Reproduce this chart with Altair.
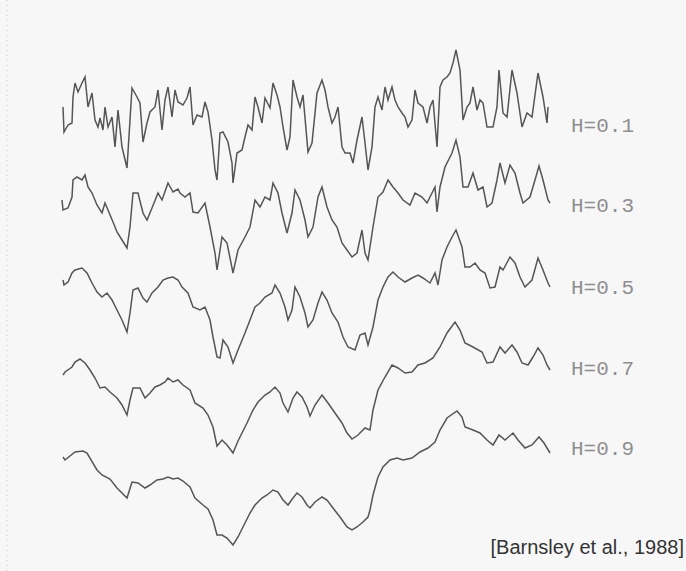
import altair as alt
import pandas as pd

x01 = [63, 64, 68, 72, 73, 75, 78, 82, 85, 88, 92, 95, 98, 100, 103, 105, 108, 112, 115, 118, 122, 127, 130, 132, 137, 140, 143, 147, 150, 155, 158, 162, 165, 168, 172, 175, 178, 183, 187, 190, 193, 197, 202, 205, 208, 212, 215, 217, 220, 223, 228, 232, 233, 237, 242, 245, 248, 252, 255, 258, 262, 265, 270, 273, 277, 280, 283, 287, 290, 293, 297, 300, 303, 308, 312, 317, 322, 325, 328, 332, 335, 338, 342, 345, 350, 353, 357, 362, 365, 368, 372, 375, 378, 382, 385, 388, 392, 395, 398, 402, 405, 408, 412, 415, 418, 423, 427, 430, 433, 437, 440, 443, 447, 450, 453, 456, 460, 463, 467, 470, 473, 477, 480, 483, 487, 493, 497, 499, 503, 507, 512, 517, 522, 527, 532, 538, 543, 547, 548]
y01 = [107, 132, 125, 123, 97, 83, 92, 83, 77, 107, 93, 120, 127, 118, 130, 107, 127, 117, 147, 110, 147, 168, 120, 88, 97, 103, 142, 123, 112, 107, 90, 130, 100, 87, 117, 90, 102, 105, 98, 87, 125, 115, 117, 102, 112, 140, 170, 180, 133, 132, 142, 163, 183, 153, 150, 137, 125, 130, 97, 107, 123, 98, 108, 83, 95, 107, 127, 150, 137, 80, 97, 107, 95, 152, 143, 93, 80, 90, 107, 123, 117, 107, 147, 153, 153, 163, 140, 117, 143, 170, 147, 107, 97, 110, 87, 100, 87, 100, 107, 113, 117, 127, 120, 90, 103, 107, 123, 107, 100, 147, 87, 80, 77, 73, 63, 50, 70, 120, 107, 103, 87, 110, 100, 103, 127, 127, 107, 70, 113, 117, 70, 93, 127, 113, 117, 73, 97, 123, 107]

x03 = [62, 63, 68, 72, 73, 77, 82, 85, 88, 92, 97, 102, 105, 108, 113, 117, 122, 127, 130, 133, 138, 143, 147, 152, 158, 162, 168, 173, 178, 180, 185, 190, 193, 198, 205, 210, 215, 217, 222, 227, 233, 238, 245, 250, 255, 260, 265, 270, 273, 278, 282, 287, 292, 295, 300, 305, 308, 313, 318, 322, 327, 332, 337, 342, 347, 352, 357, 362, 365, 368, 373, 378, 383, 388, 393, 398, 403, 410, 415, 422, 427, 432, 435, 437, 440, 445, 452, 456, 460, 463, 468, 473, 478, 483, 487, 492, 497, 500, 505, 510, 515, 520, 523, 530, 535, 539, 543, 548, 550]
y03 = [200, 210, 208, 197, 180, 177, 180, 175, 187, 193, 205, 213, 203, 210, 222, 232, 240, 248, 227, 193, 193, 213, 220, 208, 193, 200, 183, 192, 189, 193, 197, 193, 212, 213, 203, 227, 253, 270, 237, 243, 273, 250, 237, 227, 200, 207, 197, 200, 183, 193, 213, 233, 213, 190, 200, 220, 237, 227, 197, 187, 207, 220, 227, 243, 250, 257, 253, 230, 253, 260, 227, 197, 192, 180, 187, 193, 200, 205, 193, 197, 203, 193, 187, 212, 187, 167, 153, 140, 157, 187, 187, 173, 190, 187, 207, 203, 180, 163, 183, 165, 173, 193, 203, 197, 180, 166, 180, 200, 203]

x05 = [63, 64, 68, 72, 75, 82, 87, 92, 97, 102, 107, 112, 117, 122, 127, 130, 133, 138, 143, 147, 152, 158, 163, 168, 173, 178, 182, 188, 193, 200, 205, 210, 213, 217, 220, 223, 228, 233, 238, 245, 250, 255, 260, 265, 272, 275, 280, 285, 288, 292, 295, 300, 305, 308, 313, 318, 322, 327, 332, 338, 343, 348, 355, 360, 365, 368, 373, 378, 383, 388, 393, 398, 405, 412, 418, 423, 430, 435, 438, 442, 447, 452, 456, 462, 465, 470, 475, 480, 485, 490, 495, 500, 503, 510, 515, 520, 525, 532, 538, 543, 548, 550]
y05 = [280, 285, 282, 273, 270, 268, 273, 283, 292, 297, 293, 300, 310, 320, 332, 313, 290, 288, 298, 302, 293, 287, 280, 278, 277, 280, 287, 293, 307, 310, 307, 320, 337, 357, 358, 340, 347, 363, 350, 333, 320, 307, 303, 297, 293, 285, 293, 307, 320, 310, 287, 297, 313, 327, 320, 303, 292, 300, 313, 322, 337, 347, 350, 335, 333, 345, 327, 300, 287, 277, 272, 277, 282, 278, 275, 278, 283, 273, 285, 260, 247, 237, 230, 247, 267, 267, 263, 270, 273, 288, 287, 267, 270, 257, 263, 277, 287, 280, 258, 270, 283, 287]

x07 = [63, 65, 72, 75, 80, 85, 90, 95, 100, 105, 110, 117, 122, 127, 130, 133, 140, 145, 150, 155, 160, 165, 168, 173, 178, 183, 190, 195, 203, 208, 213, 217, 222, 227, 233, 238, 242, 247, 253, 258, 265, 270, 275, 280, 283, 288, 293, 297, 302, 307, 310, 315, 322, 328, 335, 342, 347, 352, 358, 365, 370, 373, 378, 385, 392, 398, 405, 412, 418, 425, 433, 440, 447, 455, 460, 465, 473, 482, 487, 493, 500, 505, 512, 517, 522, 528, 533, 538, 543, 547, 550]
y07 = [375, 372, 367, 362, 359, 363, 370, 378, 388, 387, 392, 398, 405, 415, 400, 388, 388, 398, 393, 387, 385, 382, 378, 382, 380, 385, 390, 403, 408, 415, 427, 446, 440, 445, 453, 441, 433, 423, 410, 402, 395, 392, 387, 393, 403, 412, 398, 392, 397, 407, 416, 405, 395, 403, 413, 423, 433, 439, 435, 428, 430, 410, 390, 377, 365, 368, 373, 372, 365, 363, 358, 347, 333, 322, 330, 343, 347, 352, 363, 362, 347, 353, 345, 352, 363, 365, 357, 348, 355, 365, 370]

x09 = [63, 65, 75, 83, 87, 97, 102, 110, 117, 122, 127, 132, 138, 145, 150, 157, 163, 168, 173, 178, 183, 190, 195, 203, 208, 213, 217, 222, 227, 233, 238, 245, 250, 255, 262, 267, 273, 278, 283, 288, 293, 297, 302, 307, 310, 315, 322, 327, 333, 340, 347, 352, 357, 363, 368, 370, 373, 378, 383, 390, 397, 403, 412, 420, 428, 435, 440, 447, 457, 462, 465, 473, 480, 487, 493, 499, 505, 513, 518, 525, 532, 539, 544, 550]
y09 = [457, 460, 452, 451, 453, 470, 475, 479, 488, 493, 498, 482, 483, 488, 485, 480, 479, 477, 479, 478, 481, 487, 498, 505, 509, 520, 535, 535, 538, 545, 537, 523, 513, 505, 498, 495, 490, 492, 500, 505, 498, 493, 497, 505, 508, 502, 497, 500, 508, 517, 527, 530, 527, 522, 517, 510, 495, 477, 467, 460, 458, 460, 458, 452, 448, 442, 430, 418, 411, 417, 427, 430, 433, 440, 445, 435, 440, 433, 440, 448, 445, 437, 443, 453]

series_names = ["H=0.1", "H=0.3", "H=0.5", "H=0.7", "H=0.9"]
series_x = [x01, x03, x05, x07, x09]
series_y = [y01, y03, y05, y07, y09]

label_y = [126, 206, 288, 369, 449]
citation = "[Barnsley et al., 1988]"

rows = []
for name, xs, ys in zip(series_names, series_x, series_y):
    for i, (xv, yv) in enumerate(zip(xs, ys)):
        rows.append({"series": name, "i": i, "t": xv, "v": yv})
df = pd.DataFrame(rows)

lab_df = pd.DataFrame({"label": series_names, "ly": label_y})

xs = alt.Scale(domain=[0, 686], nice=False, zero=False)
ys = alt.Scale(domain=[0, 571], nice=False, zero=False, reverse=True)

lines = alt.Chart(df).mark_line(color="#555555", strokeWidth=1.5).encode(
    x=alt.X("t:Q", scale=xs, axis=None),
    y=alt.Y("v:Q", scale=ys, axis=None),
    detail="series:N",
    order="i:Q",
)

labels = alt.Chart(lab_df).mark_text(
    align="left", baseline="middle", font="Liberation Mono", fontSize=21, color="#8f8f8f"
).encode(
    x=alt.value(571),
    y=alt.Y("ly:Q", scale=ys, axis=None),
    text="label:N",
)

cite = alt.Chart(pd.DataFrame({"c": [citation]})).mark_text(
    align="right", baseline="middle", font="Liberation Sans", fontSize=20, color="#333333"
).encode(x=alt.value(684), y=alt.value(548), text="c:N")

edge = alt.Chart(pd.DataFrame({"a": [0]})).mark_rule(
    color="#c4c4c4", strokeDash=[1, 4], strokeWidth=1
).encode(x=alt.value(7), y=alt.value(0), y2=alt.value(571))

chart = alt.layer(edge, lines, labels, cite).properties(
    width=686, height=571, padding=0, background="#f7f7f7",
    autosize=alt.AutoSizeParams(type="none"),
).configure_view(stroke=None)

chart.save("out.html", embed_options={"renderer": "svg", "actions": False})
